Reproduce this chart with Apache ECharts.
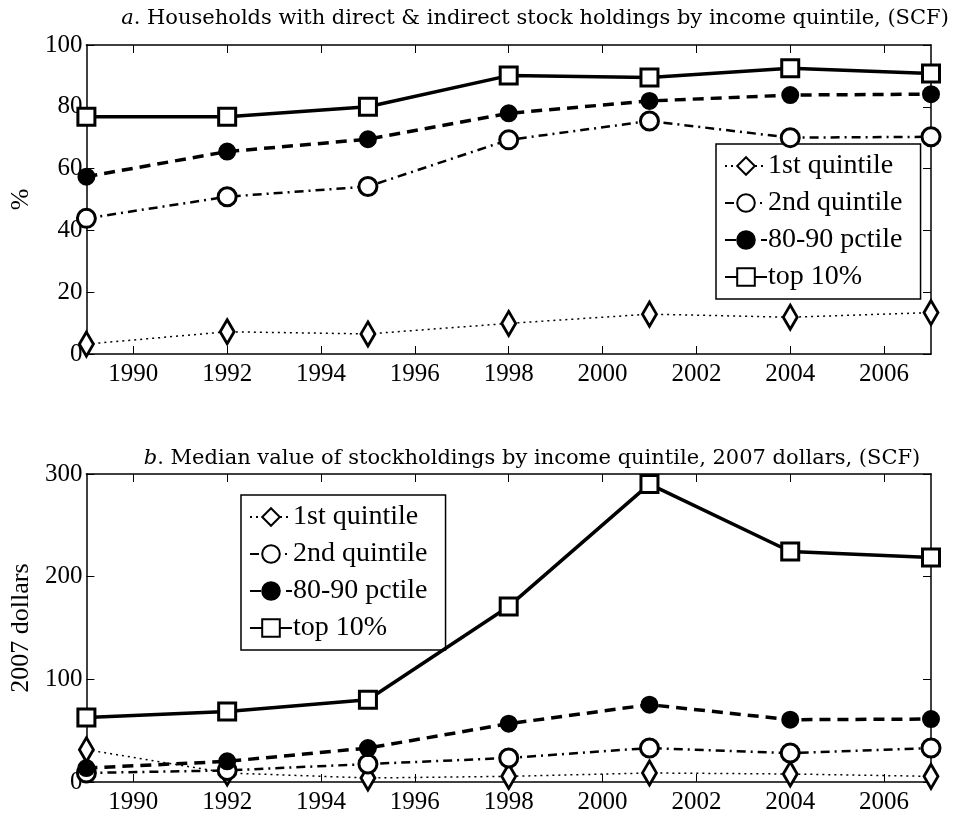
<!DOCTYPE html>
<html>
<head>
<meta charset="utf-8">
<script src="https://cdn.jsdelivr.net/npm/echarts@6/dist/echarts.min.js"></script>
<style>
  html, body { margin: 0; padding: 0; background: #fff; }
  #chart { width: 953px; height: 818px; }
</style>
</head>
<body>
<div id="chart"></div>
<script>
const years = [1989, 1992, 1995, 1998, 2001, 2004, 2007];
const seriesNames = ['1st quintile', '2nd quintile', '80-90 pctile', 'top 10%'];
const xTicks = [1990, 1992, 1994, 1996, 1998, 2000, 2002, 2004, 2006];

// panel a: share of households holding stock, %
const shareQ1 = [3.2, 7.2, 6.5, 9.9, 12.9, 11.9, 13.4];
const shareQ2 = [43.9, 50.9, 54.2, 69.3, 75.4, 70.0, 70.3];
const share8090 = [57.4, 65.5, 69.5, 77.9, 81.9, 83.8, 84.1];
const shareTop10 = [76.8, 76.8, 80.0, 90.1, 89.5, 92.5, 90.8];

// panel b: median value of stockholdings, thousands of 2007 dollars
const medianQ1 = [31.5, 8.8, 3.9, 5.5, 8.8, 7.8, 5.5];
const medianQ2 = [8.8, 11.3, 17.5, 23.4, 33.1, 28.2, 33.1];
const median8090 = [13.6, 20.1, 33.1, 56.8, 75.3, 60.7, 61.3];
const medianTop10 = [62.9, 68.7, 80.1, 171, 290.2, 224.5, 218.7];

const font = '"Liberation Serif", "Times New Roman", serif';
const titleFont = '"DejaVu Serif", serif';

const styles = [
  { symbol: 'diamond', symbolSize: [14, 24], line: { type: [2, 4], width: 1.5 }, fill: '#fff' },
  { symbol: 'circle', symbolSize: 18, line: { type: [9, 5, 2, 5], width: 2.5 }, fill: '#fff' },
  { symbol: 'circle', symbolSize: 15, line: { type: [11, 7], width: 3.5 }, fill: '#000' },
  { symbol: 'rect', symbolSize: 17, line: { type: 'solid', width: 3.5 }, fill: '#fff' }
];

function makeSeries(values, idx, gridIdx) {
  const s = styles[idx];
  return {
    name: seriesNames[idx],
    type: 'line',
    xAxisIndex: gridIdx * 2,
    yAxisIndex: gridIdx * 2,
    symbol: s.symbol,
    symbolSize: s.symbolSize,
    showAllSymbol: true,
    animation: false,
    z: 3 + idx,
    lineStyle: { color: '#000', width: s.line.width, type: s.line.type },
    itemStyle: { color: s.fill, borderColor: '#000', borderWidth: 3 },
    data: years.map((y, i) => [y, values[i]])
  };
}

function xAxes(gridIdx) {
  const base = {
    type: 'value', gridIndex: gridIdx, min: 1989, max: 2007,
    axisLine: { show: true, onZero: false, lineStyle: { color: '#000', width: 1.5 } },
    axisTick: { show: true, inside: true, length: 8, customValues: xTicks, lineStyle: { color: '#000', width: 1 } },
    splitLine: { show: false }
  };
  return [
    Object.assign({}, base, {
      position: 'bottom',
      axisLabel: {
        customValues: xTicks, color: '#000', fontFamily: font, fontSize: 25, margin: 8,
        formatter: v => String(v)
      }
    }),
    Object.assign({}, base, { position: 'top', axisLabel: { show: false } })
  ];
}

function yAxes(gridIdx, max, interval, name) {
  const base = {
    type: 'value', gridIndex: gridIdx, min: 0, max: max, interval: interval,
    axisLine: { show: true, onZero: false, lineStyle: { color: '#000', width: 1.5 } },
    axisTick: { show: true, inside: true, length: 8, lineStyle: { color: '#000', width: 1 } },
    splitLine: { show: false }
  };
  return [
    Object.assign({}, base, {
      position: 'left',
      name: name, nameLocation: 'middle', nameRotate: 90, nameGap: 40,
      nameTextStyle: { color: '#000', fontFamily: font, fontSize: 26 },
      axisLabel: { color: '#000', fontFamily: font, fontSize: 25, margin: 4 }
    }),
    Object.assign({}, base, { position: 'right', axisLabel: { show: false } })
  ];
}

function legendFor(left, top) {
  return {
    data: seriesNames,
    orient: 'vertical',
    left: left, top: top,
    padding: [8, 18, 8, 8],
    itemGap: 9,
    itemWidth: 42,
    itemHeight: 22,
    backgroundColor: '#fff',
    borderColor: '#000',
    borderWidth: 1.5,
    borderRadius: 0,
    selectedMode: false,
    textStyle: { color: '#000', fontFamily: font, fontSize: 28, padding: [0, 0, 0, -4] }
  };
}

const chart = echarts.init(document.getElementById('chart'), null, { renderer: 'canvas' });

chart.setOption({
  backgroundColor: '#fff',
  animation: false,
  title: [
    {
      text: '{i|a}. Households with direct & indirect stock holdings by income quintile, (SCF)',
      left: 530, top: 3, textAlign: 'center',
      textStyle: {
        color: '#000', fontFamily: titleFont, fontSize: 21, fontWeight: 'normal',
        rich: { i: { fontStyle: 'italic', fontFamily: titleFont, fontSize: 21, color: '#000' } }
      }
    },
    {
      text: '{i|b}. Median value of stockholdings by income quintile, 2007 dollars, (SCF)',
      left: 527, top: 443, textAlign: 'center',
      textStyle: {
        color: '#000', fontFamily: titleFont, fontSize: 21, fontWeight: 'normal',
        rich: { i: { fontStyle: 'italic', fontFamily: titleFont, fontSize: 21, color: '#000' } }
      }
    }
  ],
  legend: [legendFor(716, 144), legendFor(241, 495)],
  grid: [
    { left: 84, top: 45, width: 847, height: 309, show: false },
    { left: 84, top: 474, width: 847, height: 308, show: false }
  ],
  xAxis: [...xAxes(0), ...xAxes(1)],
  yAxis: [...yAxes(0, 100, 20, '%'), ...yAxes(1, 300, 100, '2007 dollars')],
  series: [
    makeSeries(shareQ1, 0, 0),
    makeSeries(shareQ2, 1, 0),
    makeSeries(share8090, 2, 0),
    makeSeries(shareTop10, 3, 0),
    makeSeries(medianQ1, 0, 1),
    makeSeries(medianQ2, 1, 1),
    makeSeries(median8090, 2, 1),
    makeSeries(medianTop10, 3, 1)
  ]
});
</script>
</body>
</html>
